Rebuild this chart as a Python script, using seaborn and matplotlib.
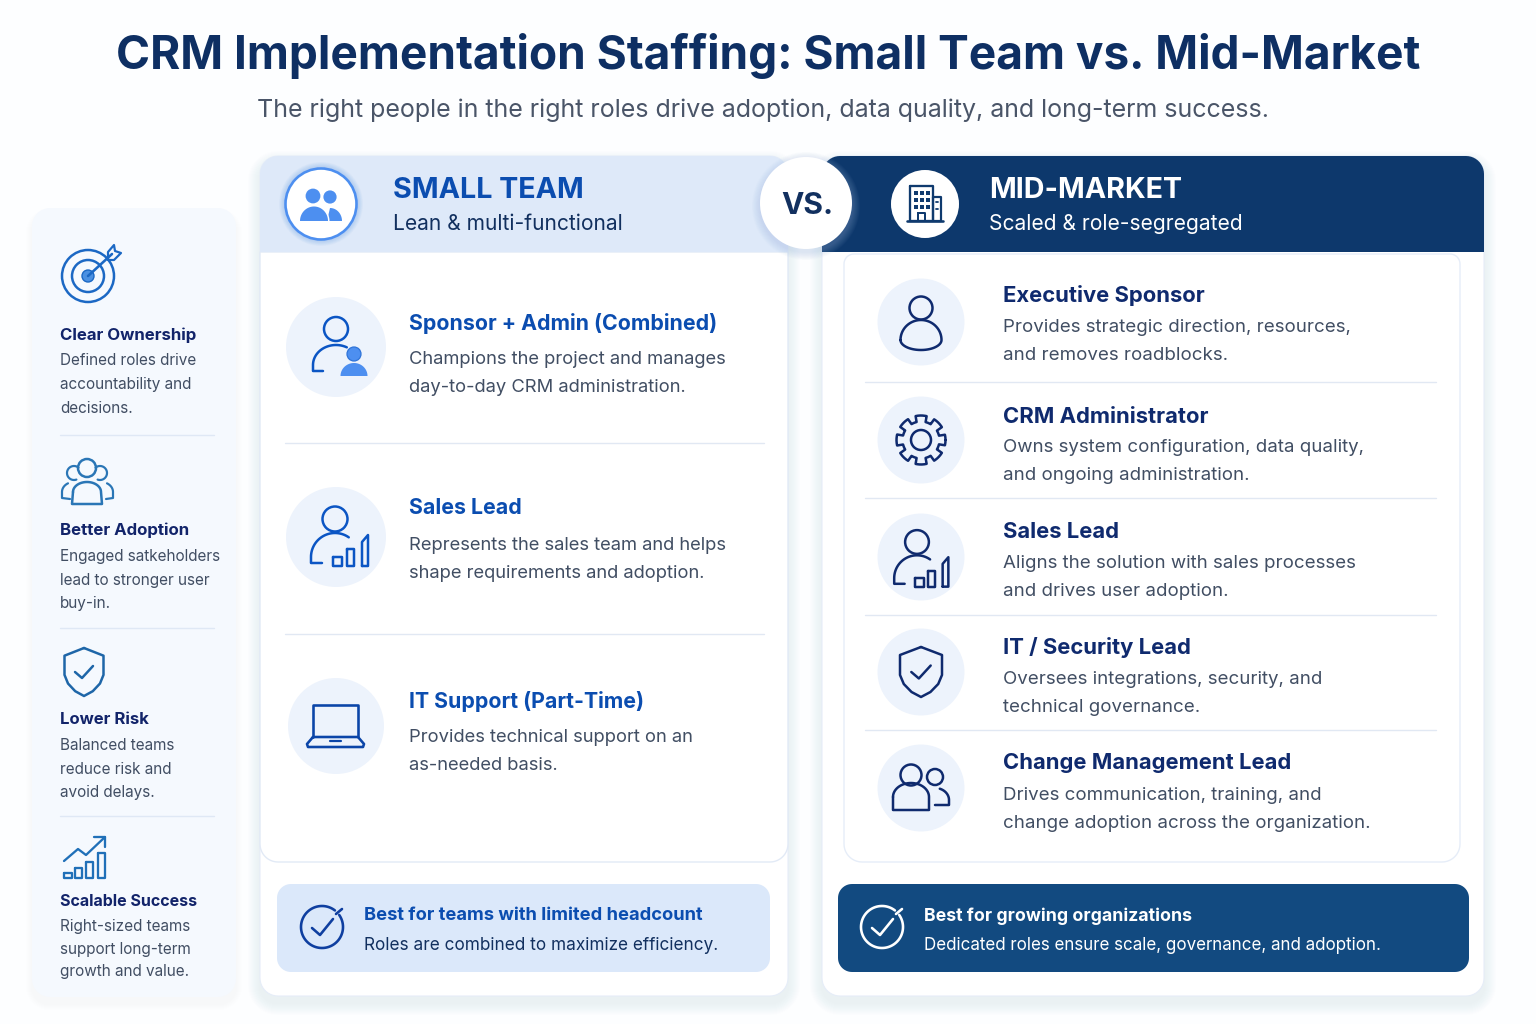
import numpy as np
import pandas as pd
import matplotlib
matplotlib.use("Agg")
import matplotlib.pyplot as plt
from matplotlib.patches import Polygon, Circle, Rectangle
import seaborn as sns

TITLE = "CRM Implementation Staffing: Small Team vs. Mid-Market"
SUBTITLE = "The right people in the right roles drive adoption, data quality, and long-term success."
SIDE_TITLES = ["Clear Ownership", "Better Adoption", "Lower Risk", "Scalable Success"]
SIDE_TEXT = [["Defined roles drive", "accountability and", "decisions."],
             ["Engaged satkeholders", "lead to stronger user", "buy-in."],
             ["Balanced teams", "reduce risk and", "avoid delays."],
             ["Right-sized teams", "support long-term", "growth and value."]]
SMALL_TITLES = ["Sponsor + Admin (Combined)", "Sales Lead", "IT Support (Part-Time)"]
SMALL_TEXT = [["Champions the project and manages", "day-to-day CRM administration."],
              ["Represents the sales team and helps", "shape requirements and adoption."],
              ["Provides technical support on an", "as-needed basis."]]
MID_TITLES = ["Executive Sponsor", "CRM Administrator", "Sales Lead", "IT / Security Lead", "Change Management Lead"]
MID_TEXT = [["Provides strategic direction, resources,", "and removes roadblocks."],
            ["Owns system configuration, data quality,", "and ongoing administration."],
            ["Aligns the solution with sales processes", "and drives user adoption."],
            ["Oversees integrations, security, and", "technical governance."],
            ["Drives communication, training, and", "change adoption across the organization."]]

FONT = "Inter"
NAVY = "#0E2F63"; BLUE = "#0B4DB0"; GREY = "#414E63"; INK = "#12246A"; DARK = "#0F2A6E"; DISK = "#EDF3FC"

sns.set_theme(style="white")
plt.rcParams["font.family"] = [FONT, "DejaVu Sans"]
fig = plt.figure(figsize=(15.36, 10.24), dpi=100, facecolor="#FDFEFF")
ax = fig.add_axes([0, 0, 1, 1])
ax.set_xlim(0, 1536); ax.set_ylim(1024, 0); ax.axis("off")
PT = 0.72


def arc(cx, cy, rx, ry, a0, a1, n=40):
    t = np.radians(np.linspace(a0, a1, n))
    return np.column_stack([cx + rx * np.cos(t), cy - ry * np.sin(t)])


def rr(x0, y0, x1, y1, tl=0, tr=0, br=0, bl=0):
    pts = [arc(x1 - tr, y0 + tr, tr, tr, 90, 0, 12), arc(x1 - br, y1 - br, br, br, 0, -90, 12),
           arc(x0 + bl, y1 - bl, bl, bl, -90, -180, 12), arc(x0 + tl, y0 + tl, tl, tl, 180, 90, 12)]
    return np.vstack(pts)


def box(x0, y0, x1, y1, fc, r=(0, 0, 0, 0), ec="none", lw=0, z=2, alpha=None):
    ax.add_patch(Polygon(rr(x0, y0, x1, y1, *r), closed=True, fc=fc, ec=ec, lw=lw, zorder=z, alpha=alpha))


def shadow(x0, y0, x1, y1, r=18, spread=12, dy=7, z=1, color="#D3E0F3", a=0.035):
    for i in range(spread, 0, -1):
        box(x0 - i, y0 - i + dy, x1 + i, y1 + i + dy, color, r=(r + i,) * 4, z=z, alpha=a)


def line(pts, c, lw=2.5, z=6):
    p = np.asarray(pts, float)
    ax.plot(p[:, 0], p[:, 1], color=c, lw=lw * PT, zorder=z, solid_capstyle="round", solid_joinstyle="round")


def ring(cx, cy, r, c, lw=2.5, z=6, fc="none"):
    ax.add_patch(Circle((cx, cy), r, fc=fc, ec=c, lw=lw * PT, zorder=z))


def rect_o(x0, y0, x1, y1, c, lw=2.5):
    line([(x0, y0), (x1, y0), (x1, y1), (x0, y1), (x0, y0)], c, lw)


def fill(pts, c, z=6):
    ax.add_patch(Polygon(np.asarray(pts), closed=True, fc=c, ec="none", zorder=z))


def txt(x, y, s, size, c, w="normal", ha="left", z=8):
    ax.text(x, y, s, fontsize=size * PT, color=c, fontweight=w, ha=ha, va="center_baseline", zorder=z, family=[FONT, "DejaVu Sans"])


# ---------- icons ----------
def target(cx, cy, c="#1B68C4"):
    ring(cx, cy, 26, c); ring(cx, cy, 16, c)
    ax.add_patch(Circle((cx, cy), 6, fc="#4A90E2", ec=c, lw=1, zorder=6))
    line([(cx, cy), (cx + 24, cy - 22)], c, 2.6)
    line([(cx + 20, cy - 16), (cx + 26, cy - 16), (cx + 33, cy - 23), (cx + 27, cy - 25),
          (cx + 26, cy - 31), (cx + 20, cy - 24), (cx + 20, cy - 16)], c, 2.2)


def team(cx, cy, c="#2A76B6"):
    ring(cx - 1, cy - 14, 9, c)
    body = np.vstack([arc(cx - 1, cy + 10, 14, 10, 180, 0), [(cx + 14, cy + 22), (cx - 16, cy + 22)]])
    line(np.vstack([body, body[:1]]), c)
    line(arc(cx - 14, cy - 9, 7, 7, 50, 290), c, 2.2)
    line(arc(cx + 12, cy - 9, 7, 7, 250, 490), c, 2.2)
    line(np.vstack([arc(cx - 14, cy + 10, 12, 10, 120, 180), [(cx - 26, cy + 16), (cx - 18, cy + 17)]]), c, 2.2)
    line(np.vstack([arc(cx + 13, cy + 10, 12, 10, 60, 0), [(cx + 25, cy + 16), (cx + 18, cy + 17)]]), c, 2.2)


def shield(cx, cy, hw, hh, c, lw=2.5):
    t = cy - hh; b = cy + hh
    pts = [(cx, t), (cx + hw, t + hh * 0.32), (cx + hw, cy + hh * 0.12), (cx + hw * 0.82, cy + hh * 0.48),
           (cx + hw * 0.45, cy + hh * 0.8), (cx, b), (cx - hw * 0.45, cy + hh * 0.8), (cx - hw * 0.82, cy + hh * 0.48),
           (cx - hw, cy + hh * 0.12), (cx - hw, t + hh * 0.32), (cx, t)]
    line(pts, c, lw)
    k = hw / 19.5
    line([(cx - 9 * k, cy), (cx - 2 * k, cy + 6 * k), (cx + 9 * k, cy - 6 * k)], c, lw)


def growth(x, y, c="#2070B8"):
    for a, b, h in [(0, 8, 5), (11, 18, 10), (22, 29, 16), (34, 41, 25)]:
        rect_o(x + a, y - h, x + b, y, c, 2.3)
    line([(x, y - 17), (x + 14, y - 29), (x + 22, y - 23), (x + 41, y - 41)], c, 2.3)
    line([(x + 30, y - 41), (x + 41, y - 41), (x + 41, y - 31)], c, 2.3)


def people_fill(cx, cy, c="#4D8FF0"):
    ax.add_patch(Circle((cx - 8, cy - 8), 7.4, fc=c, ec="none", zorder=6))
    ax.add_patch(Circle((cx + 9, cy - 7), 6.6, fc=c, ec="none", zorder=6))
    fill(np.vstack([arc(cx + 9, cy + 17, 12, 13, 90, 0), [(cx + 21, cy + 17), (cx + 6, cy + 17)]]), c)
    fill(arc(cx - 7, cy + 17, 15.5, 16, 180, 0), "white", 6.5)
    fill(arc(cx - 7, cy + 17, 14, 14.5, 180, 0), c, 7)


def building(cx, cy, c="#0F3A6E"):
    rect_o(cx - 15, cy - 18, cx + 8, cy + 17, c, 2.3)
    rect_o(cx + 8, cy - 7, cx + 16, cy + 17, c, 2.2)
    line([(cx - 18, cy + 17), (cx + 18, cy + 17)], c, 2.6)
    for yy in (-13, -6, 1):
        for xx in (-11, -5, 1):
            ax.add_patch(Rectangle((cx + xx, cy + yy), 4, 4, fc=c, ec="none", zorder=6))
    rect_o(cx - 7, cy + 9, cx, cy + 17, c, 2)
    for yy in (-2, 5):
        line([(cx + 11, cy + yy), (cx + 13, cy + yy)], c, 1.8)


def user_combo(cx, cy, c="#0B55C4", solid="#4D8FF0"):
    ring(cx, cy - 18, 12, c)
    line(np.vstack([arc(cx, cy + 18, 23, 20, 62, 180), [(cx - 23, cy + 24), (cx - 13, cy + 24)]]), c)
    ax.add_patch(Circle((cx + 18, cy + 7), 7, fc=solid, ec="#2E73D8", lw=0.9, zorder=6))
    fill(arc(cx + 18, cy + 29, 13.5, 13, 180, 0), solid)


def sales(cx, cy, c, s=1.0):
    ring(cx, cy, 12.5 * s, c)
    line(np.vstack([arc(cx, cy + 38 * s, 24 * s, 24 * s, 55, 180), [(cx - 24 * s, cy + 44 * s), (cx - 13 * s, cy + 44 * s)]]), c)
    for a, b, t in [(-2, 7, 38), (12, 19, 30)]:
        rect_o(cx + a * s, cy + t * s, cx + b * s, cy + 47 * s, c)
    line([(cx + 27 * s, cy + 47 * s), (cx + 27 * s, cy + 23 * s), (cx + 33 * s, cy + 16 * s),
          (cx + 33 * s, cy + 47 * s), (cx + 27 * s, cy + 47 * s)], c)


def laptop(cx, cy, c="#0B45A8"):
    line([(cx - 23, cy + 11), (cx - 23, cy - 21), (cx + 22, cy - 21), (cx + 22, cy + 11)], c, 2.6)
    line([(cx - 23, cy + 11), (cx + 22, cy + 11), (cx + 28, cy + 18), (cx + 27, cy + 21), (cx - 28, cy + 21), (cx - 29, cy + 18), (cx - 23, cy + 11)], c, 2.6)
    line([(cx - 6, cy + 15), (cx + 5, cy + 15)], c, 2.2)


def sponsor(cx, cy, c=DARK):
    ring(cx, cy - 14, 11.5, c)
    pts = np.vstack([arc(cx, cy + 18, 20.5, 20, 180, 0), arc(cx, cy + 18, 20.5, 10, 0, -180)])
    line(np.vstack([pts, pts[:1]]), c)


def gear(cx, cy, c=DARK):
    ring(cx, cy, 10, c)
    n = 8
    t = np.linspace(0, 2 * np.pi, 320)
    phase = (t * n / (2 * np.pi)) % 1
    rad = np.where((phase < 0.30) | (phase > 0.70), 24.5, 18.5)
    line(np.column_stack([cx + rad * np.cos(t), cy + rad * np.sin(t)]), c, 2.5)


def change(cx, cy, c=DARK):
    ring(cx - 10, cy - 13, 10.5, c)
    pts = np.vstack([arc(cx - 10, cy + 9, 18, 14, 180, 0), [(cx + 8, cy + 22), (cx - 28, cy + 22), (cx - 28, cy + 9)]])
    line(pts, c)
    ring(cx + 14, cy - 11, 8, c)
    line(np.vstack([arc(cx + 14, cy + 12, 14, 12, 70, 0), [(cx + 28, cy + 17), (cx + 14, cy + 17)]]), c)


def check_circle(cx, cy, c):
    line(arc(cx, cy, 21, 21, 52, 395, 80), c, 2.6)
    line([(cx - 10, cy + 1), (cx - 2, cy + 8), (cx + 11, cy - 8)], c, 2.6)
    line([(cx + 14, cy - 13), (cx + 20, cy - 18)], c, 2.6)


# ---------- panels ----------
shadow(32, 208, 236, 997, r=18, spread=6, a=0.02)
box(32, 208, 236, 997, "#F5F9FE", r=(18,) * 4)
shadow(260, 156, 788, 996)
shadow(822, 156, 1484, 996)
box(260, 156, 788, 996, "white", r=(18,) * 4, ec="#E6EDF8", lw=0.8)
box(822, 156, 1484, 996, "white", r=(18,) * 4, ec="#E6EDF8", lw=0.8)
box(260, 252, 788, 862, "white", r=(0, 0, 18, 18), ec="#E2EAF6", lw=1, z=2.5)
box(844, 254, 1460, 862, "white", r=(10, 10, 18, 18), ec="#E6EDF8", lw=1, z=2.5)
box(260, 156, 788, 252, "#DEE9F9", r=(18, 18, 0, 0), z=3)
box(822, 156, 1484, 252, "#0D386C", r=(18, 18, 0, 0), z=3)
box(277, 884, 770, 972, "#DBE8FA", r=(14,) * 4, z=3)
box(838, 884, 1469, 972, "#124A80", r=(14,) * 4, z=3)

# icon disks, drawn through seaborn scatter with pixel diameters
disks = pd.DataFrame({"x": [336, 336, 336, 921, 921, 921, 921, 921],
                      "y": [347, 537, 726, 322, 440, 557, 672, 788],
                      "d": [100, 100, 96, 87, 87, 87, 87, 87]})
sns.scatterplot(data=disks, x="x", y="y", s=(disks["d"] * PT) ** 2, color=DISK, linewidth=0, ax=ax, zorder=4, legend=False)
ax.set_xlim(0, 1536); ax.set_ylim(1024, 0)
sns.despine(ax=ax, left=True, bottom=True)

# header badges
for i in range(10, 0, -1):
    ax.add_patch(Circle((806, 206), 46 + i * 0.8, fc="#9DB8DE", ec="none", alpha=0.035, zorder=4.5))
    ax.add_patch(Circle((321, 204), 36 + i * 0.6, fc="#4D8FF0", ec="none", alpha=0.03, zorder=4))
ax.add_patch(Circle((806, 203), 46, fc="white", ec="none", zorder=5))
ax.add_patch(Circle((321, 204), 35.5, fc="white", ec="#4D8FF0", lw=2.6 * PT, zorder=5))
ax.add_patch(Circle((925, 204), 34, fc="white", ec="none", zorder=5))
people_fill(321, 204)
building(925, 204)
txt(807, 203, "VS.", 30, "#12305F", "bold", ha="center")

# heading
txt(768, 51, TITLE, 46, NAVY, "bold", ha="center")
txt(763, 108, SUBTITLE, 25, "#4A5568", ha="center")
txt(393, 188, "SMALL TEAM", 28.7, BLUE, "bold")
txt(393, 222, "Lean & multi-functional", 21, "#12305F")
txt(989, 188, "MID-MARKET", 28.7, "white", "bold")
txt(989, 222, "Scaled & role-segregated", 21, "white")

# sidebar
side_title_y = [334, 529, 718, 900]
side_title_size = [16.8, 16.8, 16.7, 16.0]
side_line_y = [[359, 383, 407], [555, 579, 602], [744, 768, 791], [925, 948, 970]]
for t, ls, ty, ys, sz in zip(SIDE_TITLES, SIDE_TEXT, side_title_y, side_line_y, side_title_size):
    txt(60, ty, t, sz, INK, "bold")
    for s, y in zip(ls, ys):
        txt(60, y, s, 15.3, GREY)
for y in (435, 628, 816):
    ax.plot([60, 214], [y, y], color="#DFE8F5", lw=1, zorder=3)
target(88, 276); team(88, 482); shield(84, 672, 19.5, 24, "#1E66A8"); growth(64, 878)

# small team rows
for t, ls, ty, ys in zip(SMALL_TITLES, SMALL_TEXT, [322, 506, 699], [(358, 386), (543, 571), (735, 763)]):
    txt(409, ty, t, 21.3, BLUE, "bold")
    for s, y in zip(ls, ys):
        txt(409, y, s, 18.4, GREY)
for y in (443, 634):
    ax.plot([285, 764], [y, y], color="#E1E8F3", lw=1, zorder=3)
user_combo(336, 347); sales(335, 519, "#0B55C4"); laptop(336, 726)

# mid-market rows
mid_title_y = [294, 415, 530, 646, 761]
mid_line_y = [(326, 354), (446, 474), (561, 589), (678, 706), (793, 821)]
for t, ls, ty, ys in zip(MID_TITLES, MID_TEXT, mid_title_y, mid_line_y):
    txt(1003, ty, t, 22, DARK, "bold")
    for s, y in zip(ls, ys):
        txt(1003, y, s, 18.7, GREY)
for y in (382, 498, 615, 730):
    ax.plot([865, 1436], [y, y], color="#E1E8F3", lw=1, zorder=3)
sponsor(921, 322); gear(921, 440); sales(917, 542, DARK, 0.95); shield(921, 672, 21, 25, DARK); change(921, 788)

# bottom notes
check_circle(322, 927, "#0F3FA0")
check_circle(882, 927, "white")
txt(364, 914, "Best for teams with limited headcount", 18.3, BLUE, "bold")
txt(364, 943, "Roles are combined to maximize efficiency.", 17.2, "#12305F")
txt(924, 914, "Best for growing organizations", 17.7, "white", "bold")
txt(924, 943, "Dedicated roles ensure scale, governance, and adoption.", 17, "white")

fig.savefig("out.png", dpi=100, facecolor=fig.get_facecolor())
